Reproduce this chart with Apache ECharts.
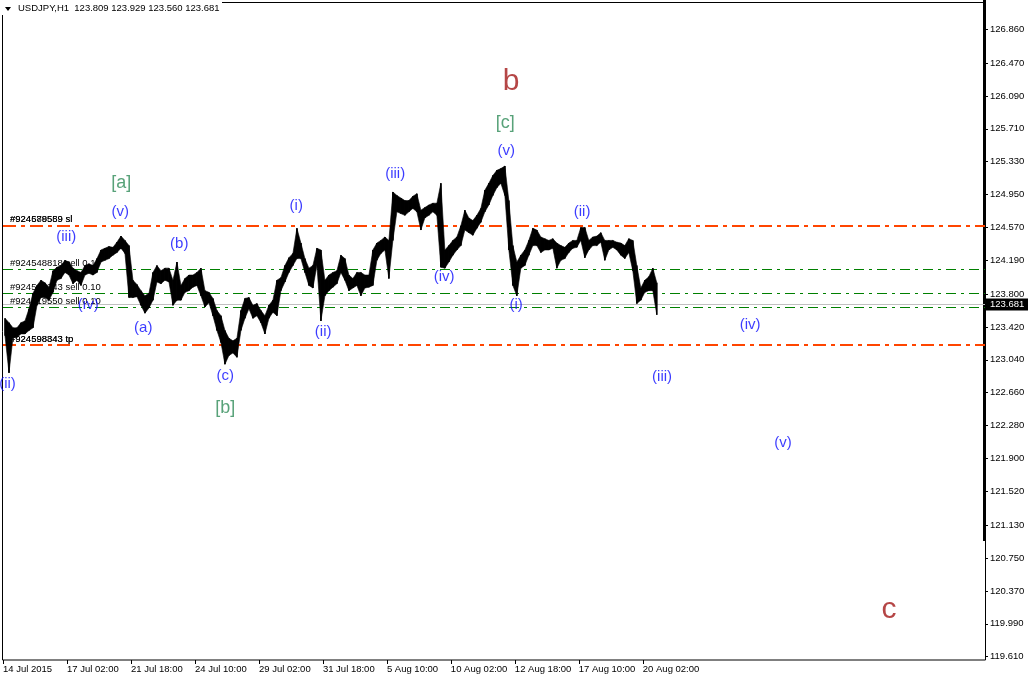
<!DOCTYPE html>
<html><head><meta charset="utf-8">
<script src="https://cdn.jsdelivr.net/npm/echarts@6/dist/echarts.min.js"></script>
<style>html,body{margin:0;padding:0;background:#fff}#c{width:1028px;height:678px}</style>
</head><body><div id="c"></div>
<script>
// ---- data ----
const symbolTitle = 'USDJPY,H1';
const lastBar = [123.809, 123.929, 123.560, 123.681]; // O H L C
const bucketHours = 4; // each entry spans 4 hourly bars
const highs = [
123.52,123.47,123.41,123.41,123.47,123.49,123.63,123.81,123.90,123.96,
123.93,123.88,124.07,124.11,124.13,124.19,124.17,124.10,124.07,124.05,
124.13,124.15,124.13,124.21,124.31,124.33,124.35,124.34,124.40,124.47,
124.42,124.36,123.96,123.91,123.84,123.78,123.81,124.05,124.13,124.07,
124.10,124.10,123.96,124.17,123.90,123.98,124.02,124.02,124.05,124.10,
123.84,123.82,123.75,123.61,123.55,123.38,123.29,123.26,123.29,123.61,
123.75,123.76,123.67,123.69,123.61,123.55,123.67,123.73,123.96,123.99,
124.13,124.22,124.27,124.56,124.39,124.21,124.10,124.13,124.33,124.31,
123.96,124.02,124.05,124.07,124.25,124.21,124.02,123.98,124.05,124.05,
124.02,124.02,124.31,124.39,124.42,124.46,124.42,124.98,124.94,124.91,
124.88,124.88,124.93,124.96,124.77,124.80,124.83,124.85,124.85,125.08,
124.31,124.36,124.42,124.46,124.59,124.77,124.68,124.65,124.71,124.79,
125.00,125.08,125.17,125.23,125.25,125.28,124.88,124.36,124.17,124.25,
124.31,124.42,124.56,124.54,124.46,124.44,124.42,124.44,124.39,124.36,
124.34,124.39,124.42,124.42,124.57,124.57,124.42,124.46,124.47,124.51,
124.42,124.42,124.42,124.40,124.39,124.36,124.44,124.42,124.13,123.87,
123.96,124.00,124.10,123.93];
const lows = [
123.32,122.89,123.30,123.30,123.34,123.34,123.38,123.41,123.67,123.76,
123.76,123.73,123.82,123.96,123.98,124.05,124.02,123.92,123.96,123.90,
124.02,124.04,124.02,124.05,124.17,124.19,124.21,124.25,124.28,124.33,
124.27,123.76,123.76,123.77,123.67,123.58,123.64,123.73,123.94,123.92,
123.96,123.94,123.67,123.73,123.73,123.82,123.84,123.88,123.90,123.78,
123.65,123.70,123.55,123.38,123.24,122.99,123.09,123.12,123.07,123.38,
123.52,123.63,123.52,123.55,123.47,123.34,123.52,123.59,123.55,123.84,
123.94,124.05,124.13,124.21,124.21,124.05,123.90,123.87,124.13,123.49,
123.78,123.84,123.88,123.92,124.05,123.96,123.84,123.87,123.90,123.78,
123.87,123.88,123.90,124.19,124.27,124.31,123.98,124.42,124.75,124.73,
124.71,124.75,124.79,124.75,124.54,124.68,124.71,124.75,124.71,124.11,
124.10,124.17,124.25,124.31,124.36,124.54,124.51,124.48,124.56,124.63,
124.75,124.83,124.94,125.03,125.08,124.94,124.31,123.90,123.78,124.10,
124.13,124.25,124.36,124.36,124.28,124.31,124.31,124.33,124.10,124.19,
124.21,124.28,124.33,124.34,124.42,124.22,124.31,124.36,124.36,124.40,
124.19,124.31,124.34,124.31,124.25,124.21,124.28,124.07,123.69,123.73,
123.82,123.84,123.84,123.56];

const timeLabels = ['14 Jul 2015','17 Jul 02:00','21 Jul 18:00','24 Jul 10:00','29 Jul 02:00','31 Jul 18:00','5 Aug 10:00','10 Aug 02:00','12 Aug 18:00','17 Aug 10:00','20 Aug 02:00'];
const timeLabelHours = [0,64,128,192,256,320,384,448,512,576,640];
const priceLabels = ['126.860','126.470','126.090','125.710','125.330','124.950','124.570','124.190','123.800','123.420','123.040','122.660','122.280','121.900','121.520','121.130','120.750','120.370','119.990','119.610'];

const slLevels = [124.587, 124.587];
const slTexts = ['#924578559 sl', '#924689589 sl'];
const tpLevels = [123.212, 123.212];
const tpTexts = ['#924598343 tp', '#924598843 tp'];
const sellLevels = [124.088, 123.809, 123.648];
const sellTexts = ['#924548818 sell 0.10', '#924561343 sell 0.10', '#924619550 sell 0.10'];

// wave labels: [hour, price, text]
const blueWaves = [
  [4.5,122.76,'(ii)'],[63.3,124.46,'(iii)'],[85.3,123.674,'(iv)'],[117.3,124.749,'(v)'],
  [140.3,123.408,'(a)'],[176.3,124.379,'(b)'],[222.3,122.854,'(c)'],
  [293.3,124.818,'(i)'],[320.3,123.362,'(ii)'],[392.3,125.188,'(iii)'],[441.3,124.00,'(iv)'],[503.3,125.454,'(v)'],
  [513.3,123.674,'(i)'],[579.3,124.749,'(ii)'],[659.3,122.842,'(iii)'],[747.3,123.443,'(iv)'],[780.3,122.08,'(v)']
];
const greenWaves = [[118.3,125.084,'[a]'],[222.3,122.484,'[b]'],[502.3,125.777,'[c]']];
const redWaves = [[508.3,126.251,'b'],[886.3,120.15,'c']];

// ---- chart ----
const FONT = 'Liberation Sans';
const chart = echarts.init(document.getElementById('c'), null, {renderer:'canvas'});
const bars = highs.map((h,i)=>[i*bucketHours + bucketHours/2, lows[i], h]);

function orderLine(level, text, color, width, dash){
  return {yAxis: level, lineStyle:{color, width, type: dash},
    label:{show:true, formatter:text, position:'insideStartTop', distance:[7,1], color:'#000', fontSize:9.5, fontFamily:FONT}};
}
const markData = [];
sellLevels.forEach((l,i)=>markData.push(orderLine(l, sellTexts[i], '#008000', 1, [10,5,3,5])));
slLevels.forEach((l,i)=>markData.push(orderLine(l, slTexts[i], '#FF4500', 2, [13,5,4,5])));
tpLevels.forEach((l,i)=>markData.push(orderLine(l, tpTexts[i], '#FF4500', 2, [13,5,4,5])));
markData.push({yAxis:lastBar[3], lineStyle:{color:'#c0c0c0', width:1, type:'solid'},
  label:{show:true, position:'end', distance:1, formatter:lastBar[3].toFixed(3), color:'#fff', backgroundColor:'#000', padding:[1,4,1,4], fontSize:9.5, fontFamily:FONT}});

function waveSeries(data, color, size){
  return {type:'scatter', data, symbolSize:0, silent:true, clip:false, z:5,
    label:{show:true, position:'inside', formatter:p=>p.value[2], color, fontSize:size, fontFamily:FONT}};
}

chart.setOption({
  animation:false,
  grid:{left:2.7, right:43, top:2, bottom:18},
  xAxis:{type:'value', min:0, max:982.3, position:'bottom',
    axisLine:{show:false, onZero:false}, splitLine:{show:false},
    axisTick:{show:true, customValues:timeLabelHours, length:4, lineStyle:{color:'#000'}},
    axisLabel:{customValues:timeLabelHours, align:'left', margin:4, color:'#000', fontSize:9.5, fontFamily:FONT,
      formatter:v=>timeLabels[timeLabelHours.indexOf(Math.round(v))] || ''}},
  yAxis:{type:'value', position:'right', min:119.572, max:127.175,
    axisLine:{show:false, onZero:false}, splitLine:{show:false},
    axisTick:{show:true, customValues:priceLabels.map(Number), length:3, lineStyle:{color:'#000'}},
    axisLabel:{customValues:priceLabels.map(Number), margin:5, color:'#000', fontSize:9.5, fontFamily:FONT,
      formatter:v=>priceLabels.find(s=>Math.abs(Number(s)-v)<1e-6) || v.toFixed(3)}},
  graphic:[
    {type:'rect', shape:{x:2.5, y:2.5, width:983, height:657.5}, style:{fill:null, stroke:'#000', lineWidth:1}, z:1, silent:true},
    {type:'rect', shape:{x:983, y:0, width:3, height:541}, style:{fill:'#000'}, z:2, silent:true},
    {type:'rect', shape:{x:0, y:0, width:222, height:15}, style:{fill:'#fff'}, z:3, silent:true},
    {type:'polygon', shape:{points:[[5,7],[11,7],[8,11]]}, style:{fill:'#000'}, z:4, silent:true},
    {type:'text', x:18, y:3.5, style:{text:symbolTitle+'  '+lastBar.map(v=>v.toFixed(3)).join(' '), fill:'#000', font:'9.5px "Liberation Sans"'}, z:4, silent:true}
  ],
  series:[
    {type:'custom', data:bars, z:3, encode:{x:0, y:[1,2]},
      renderItem:(params, api)=>{
        const i = params.dataIndex;
        const hi = api.coord([api.value(0), api.value(2)]);
        const lo = api.coord([api.value(0), api.value(1)]);
        const children = [{type:'rect', shape:{x:hi[0]-0.75, y:hi[1], width:1.5, height:lo[1]-hi[1]}, style:{fill:'#000'}}];
        if (i < highs.length - 1) {
          const hx = (i+1)*bucketHours + bucketHours/2;
          const hi2 = api.coord([hx, highs[i+1]]);
          const lo2 = api.coord([hx, lows[i+1]]);
          children.push({type:'polygon', shape:{points:[hi, hi2, lo2, lo]}, style:{fill:'#000', stroke:'#000', lineWidth:0.6}});
        }
        return {type:'group', children};
      },
      markLine:{symbol:['none','none'], silent:true, z:2, data:markData}},
    waveSeries(blueWaves, '#0a0aff', 15),
    waveSeries(greenWaves, '#2e8b57', 18),
    waveSeries(redWaves, '#a31818', 30)
  ]
});
</script></body></html>
